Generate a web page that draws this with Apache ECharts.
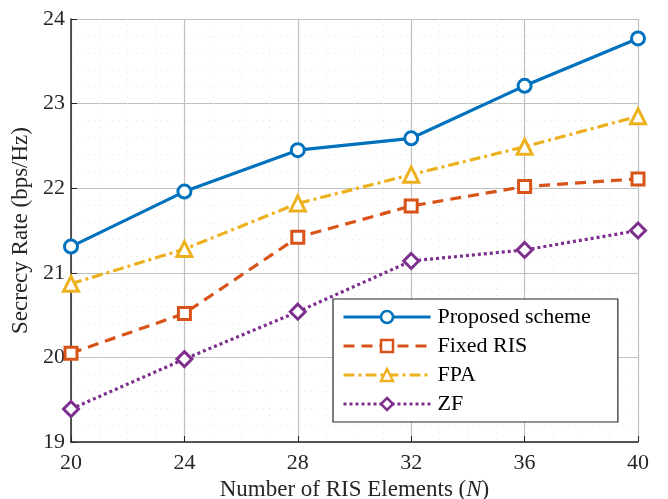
<!DOCTYPE html>
<html>
<head>
<meta charset="utf-8">
<script src="https://cdn.jsdelivr.net/npm/echarts@6/dist/echarts.min.js"></script>
<style>html,body{margin:0;padding:0;background:#fff;}#c{width:668px;height:499px;}</style>
</head>
<body>
<div id="c"></div>
<script>
const elements = [20, 24, 28, 32, 36, 40];
const proposed = [21.31, 21.96, 22.45, 22.59, 23.21, 23.77];
const fixedRIS = [20.05, 20.52, 21.42, 21.79, 22.02, 22.11];
const fpa = [20.87, 21.28, 21.82, 22.16, 22.49, 22.85];
const zf = [19.39, 19.98, 20.54, 21.14, 21.27, 21.50];
const seriesNames = ['Proposed scheme', 'Fixed RIS', 'FPA', 'ZF'];

const font = 'Liberation Serif';
const pair = arr => elements.map((x, i) => [x, arr[i]]);

function mk(name, data, color, type, symbol, size) {
  return {
    name: name, type: 'line', data: pair(data),
    symbol: symbol, symbolSize: size,
    lineStyle: { color: color, width: 3.2, type: type },
    itemStyle: { color: '#ffffff', borderColor: color, borderWidth: 3 },
    emphasis: { disabled: true },
    z: 5
  };
}

const chart = echarts.init(document.getElementById('c'));
chart.setOption({
  animation: false,
  backgroundColor: '#fff',
  grid: { left: 71, right: 30, top: 19, bottom: 57, containLabel: false, outerBoundsMode: 'none' },
  xAxis: {
    type: 'value', min: 20, max: 40, interval: 4,
    name: '{a|Number of RIS Elements (}{i|N}{a|)}',
    nameLocation: 'middle', nameGap: 36,
    nameTextStyle: { rich: {
      a: { fontFamily: font, fontSize: 23, color: '#262626' },
      i: { fontFamily: font, fontSize: 23, color: '#262626', fontStyle: 'italic' }
    } },
    axisLine: { show: true, lineStyle: { color: '#262626', width: 1.5 } },
    axisTick: { show: true, inside: true, length: 6, lineStyle: { color: '#262626' } },
    axisLabel: { fontFamily: font, fontSize: 22, color: '#262626', margin: 10 },
    splitLine: { show: true, lineStyle: { color: '#c0c0c0', width: 1.2 } },
    minorTick: { show: false, splitNumber: 4 },
    minorSplitLine: { show: true, lineStyle: { color: '#e6e6e6', type: [1, 5], width: 1 } }
  },
  yAxis: {
    type: 'value', min: 19, max: 24, interval: 1,
    name: 'Secrecy Rate (bps/Hz)',
    nameLocation: 'middle', nameGap: 28,
    nameTextStyle: { fontFamily: font, fontSize: 23, color: '#262626' },
    axisLine: { show: true, lineStyle: { color: '#262626', width: 1.5 } },
    axisTick: { show: true, inside: true, length: 6, lineStyle: { color: '#262626' } },
    axisLabel: { fontFamily: font, fontSize: 22, color: '#262626', margin: 6 },
    splitLine: { show: true, lineStyle: { color: '#c0c0c0', width: 1.2 } },
    minorTick: { show: false, splitNumber: 5 },
    minorSplitLine: { show: true, lineStyle: { color: '#e6e6e6', type: [1, 5], width: 1 } }
  },
  legend: {
    show: true, orient: 'vertical',
    left: 333, top: 299,
    padding: [7, 27, 7, 9],
    itemWidth: 87, itemHeight: 15, itemGap: 7,
    lineStyle: { width: 3 },
    itemStyle: { borderWidth: 2.5 },
    backgroundColor: '#fff', borderColor: '#262626', borderWidth: 1.2, borderRadius: 0,
    textStyle: { fontFamily: font, fontSize: 22, color: '#000', padding: [0, 0, 0, 2] },
    data: seriesNames
  },
  series: [
    mk(seriesNames[0], proposed, '#0072BD', 'solid', 'circle', 13),
    mk(seriesNames[1], fixedRIS, '#D95319', [11, 7], 'rect', 12),
    mk(seriesNames[2], fpa, '#EDB120', [11, 4, 3, 4], 'triangle', 15),
    mk(seriesNames[3], zf, '#7E2F8E', [3, 3], 'diamond', 15)
  ]
});
</script>
</body>
</html>
